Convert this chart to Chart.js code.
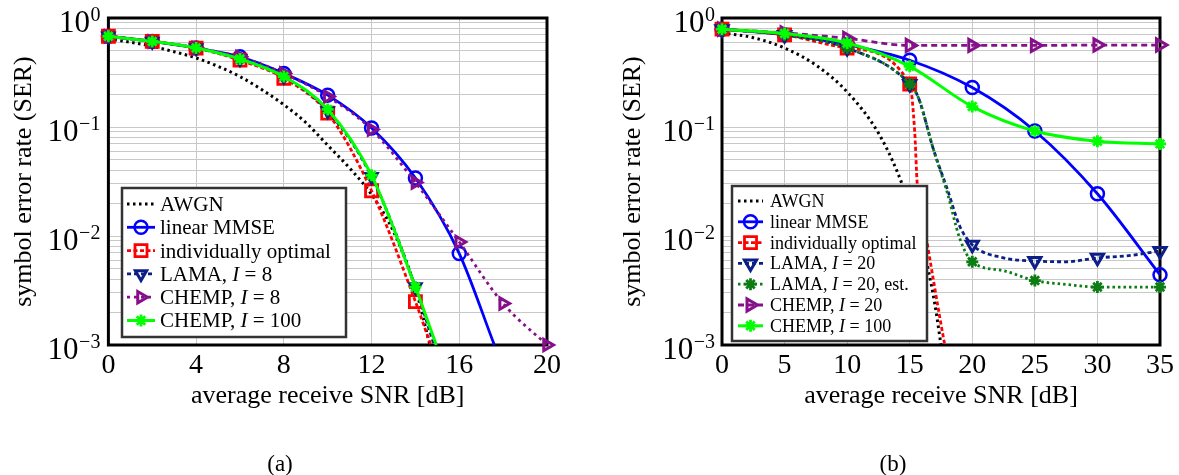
<!DOCTYPE html>
<html>
<head>
<meta charset="utf-8">
<script src="https://cdn.jsdelivr.net/npm/chart.js@4.4.1/dist/chart.umd.min.js"></script>
<style>
  body { margin: 0; background: #fff; }
  #wrap { position: relative; width: 1179px; height: 475px; overflow: hidden; }
  canvas { position: absolute; top: 0; }
  .cap { position: absolute; top: 451px; font-family: 'Liberation Serif', serif; font-size: 23px; transform: translateX(-50%); }
</style>
</head>
<body>
<div id="wrap">
  <canvas id="chartA" width="600" height="475" style="left:0"></canvas>
  <canvas id="chartB" width="579" height="475" style="left:600px"></canvas>
  <div class="cap" style="left:280px">(a)</div>
  <div class="cap" style="left:893px">(b)</div>
</div>
<script>
// ---- (a) SER vs SNR, 0..20 dB ----
const awgnSnrA = [0, 1, 2, 3, 4, 5, 6, 7, 8, 9, 10, 11, 12, 13, 14, 14.66];
const awgnA = [0.64, 0.60, 0.55, 0.49, 0.43, 0.36, 0.29, 0.22, 0.16, 0.11, 0.068, 0.042, 0.024, 0.011, 0.0033, 0.001];
const mmseSnrA = [0, 2, 4, 6, 8, 10, 12, 14, 16, 17.6];
const mmseA = [0.68, 0.61, 0.53, 0.44, 0.31, 0.196, 0.098, 0.034, 0.0069, 0.001];
const optSnrA = [0, 2, 4, 6, 8, 10, 12, 14, 14.7];
const optA = [0.68, 0.61, 0.53, 0.41, 0.28, 0.134, 0.026, 0.0025, 0.001];
const lamaSnrA = [0, 2, 4, 6, 8, 10, 12, 14, 14.85];
const lamaA = [0.68, 0.61, 0.53, 0.42, 0.29, 0.14, 0.035, 0.0034, 0.001];
const chempSnrA = [0, 2, 4, 6, 8, 10, 12, 14, 16, 18, 20];
const chempA = [0.68, 0.61, 0.53, 0.44, 0.31, 0.19, 0.095, 0.031, 0.0088, 0.0024, 0.001];
const chemp100SnrA = [0, 2, 4, 6, 8, 10, 12, 14, 14.95];
const chemp100A = [0.68, 0.61, 0.53, 0.42, 0.29, 0.145, 0.036, 0.0034, 0.001];

// ---- (b) SER vs SNR, 0..35 dB ----
const awgnSnrB = [0, 2.5, 5, 7.5, 10, 12.5, 14, 15, 16, 17, 17.5];
const awgnB = [0.73, 0.66, 0.53, 0.37, 0.21, 0.088, 0.039, 0.019, 0.0085, 0.0024, 0.001];
const snrB = [0, 5, 10, 15, 20, 25, 30, 35];
const mmseB = [0.79, 0.70, 0.57, 0.41, 0.23, 0.092, 0.0244, 0.0044];
const optSnrB = [0, 5, 10, 15, 15.4, 15.6, 16.3, 17.4, 17.8];
const optB = [0.79, 0.70, 0.53, 0.248, 0.09, 0.03, 0.01, 0.0018, 0.001];
const lamaSnrB = [0, 5, 10, 15, 15.7, 16.9, 18, 19, 20, 22.5, 25, 27.5, 30, 32.5, 35];
const lamaB = [0.79, 0.70, 0.53, 0.248, 0.185, 0.062, 0.027, 0.0123, 0.0083, 0.0063, 0.0059, 0.0058, 0.0063, 0.0066, 0.0073];
const lamaEstB = [0.79, 0.70, 0.53, 0.248, 0.185, 0.062, 0.025, 0.0095, 0.0058, 0.0048, 0.0039, 0.0036, 0.0034, 0.0034, 0.0034];
const chempB = [0.79, 0.73, 0.65, 0.56, 0.56, 0.56, 0.565, 0.565];
const chemp100B = [0.79, 0.72, 0.59, 0.36, 0.154, 0.092, 0.074, 0.070];

// y axis decade labels
const decadeVals = [1, 0.1, 0.01, 0.001];
const decadeExp = ['0', '\u22121', '\u22122', '\u22123'];

const SERIF = "'Liberation Serif', 'DejaVu Serif', serif";

// gridlines at 1..9 x 10^k
const gridVals = [];
for (let e = -3; e < 0; e++) {
    for (let m = 1; m < 10; m++) gridVals.push(m * Math.pow(10, e));
}
gridVals.push(1);

const markAt = step => c => (c.raw && Math.abs(c.raw.x / step - Math.round(c.raw.x / step)) < 1e-9);

function series(label, xs, ys, st, step) {
    const isMark = markAt(step);
    const r = st.radius || 0;
    return {
        label: label,
        data: xs.map((x, i) => ({ x: x, y: ys[i] })),
        borderColor: st.color,
        borderWidth: st.width || 2.5,
        borderDash: st.dash || [],
        pointStyle: st.point || 'circle',
        pointRotation: st.rot || 0,
        pointRadius: c => (r && isMark(c) ? r : 0),
        pointBorderColor: st.color,
        pointBorderWidth: st.pw || 2,
        pointBackgroundColor: 'rgba(0,0,0,0)',
        fill: false,
        cubicInterpolationMode: 'monotone',
        clip: { left: 12, top: 12, right: 12, bottom: 10 },
        legendRadius: st.lr || r
    };
}

const NAVY = '#0c1f86';
const DKGREEN = '#0b7d12';
const PURPLE = '#85108a';

const datasetsA = [
    series('AWGN', awgnSnrA, awgnA, { color: '#000', width: 3, dash: [2.5, 3.5] }, 2),
    series('linear MMSE', mmseSnrA, mmseA, { color: '#0000ff', width: 2.8, point: 'circle', radius: 6.5, pw: 2.5 }, 2),
    series('individually optimal', optSnrA, optA, { color: '#ff0000', width: 2.8, dash: [4, 2.5], point: 'rect', radius: 8.5, pw: 2.8 }, 2),
    series('LAMA, *I* = 8', lamaSnrA, lamaA, { color: NAVY, width: 2.8, dash: [4, 3], point: 'triangle', rot: 180, radius: 6.5, pw: 3 }, 2),
    series('CHEMP, *I* = 8', chempSnrA, chempA, { color: PURPLE, width: 2.8, dash: [3, 4], point: 'triangle', rot: 90, radius: 6.5, pw: 3 }, 2),
    series('CHEMP, *I* = 100', chemp100SnrA, chemp100A, { color: '#00ff00', width: 3, point: 'star', radius: 6, pw: 2.8 }, 2)
];

const datasetsB = [
    series('AWGN', awgnSnrB, awgnB, { color: '#000', width: 3, dash: [2.5, 3.5] }, 5),
    series('linear MMSE', snrB, mmseB, { color: '#0000ff', width: 2.8, point: 'circle', radius: 6.5, pw: 2.5 }, 5),
    series('individually optimal', optSnrB, optB, { color: '#ff0000', width: 2.8, dash: [4, 2.5], point: 'rect', radius: 8.5, pw: 2.8 }, 5),
    series('LAMA, *I* = 20', lamaSnrB, lamaB, { color: NAVY, width: 2.8, dash: [4, 3], point: 'triangle', rot: 180, radius: 7, pw: 3 }, 5),
    series('LAMA, *I* = 20, est.', lamaSnrB, lamaEstB, { color: DKGREEN, width: 2.8, dash: [2.5, 3], point: 'star', radius: 6, pw: 2.8 }, 5),
    series('CHEMP, *I* = 20', snrB, chempB, { color: PURPLE, width: 2.8, dash: [6, 4], point: 'triangle', rot: 90, radius: 7, pw: 3 }, 5),
    series('CHEMP, *I* = 100', snrB, chemp100B, { color: '#00ff00', width: 3, point: 'star', radius: 6, pw: 2.8 }, 5)
];

// later legend entries are painted on top
[datasetsA, datasetsB].forEach(ds => ds.forEach((d, i) => { d.order = ds.length - i; }));

// black frame round the plot area, drawn under the data
const framePlugin = {
    id: 'frame',
    beforeDatasetsDraw(chart) {
        const a = chart.chartArea;
        const ctx = chart.ctx;
        ctx.save();
        ctx.strokeStyle = '#000';
        ctx.lineWidth = 3;
        ctx.strokeRect(a.left, a.top, a.right - a.left, a.bottom - a.top);
        ctx.restore();
    }
};

// 10^k labels on the log axis
const decadePlugin = {
    id: 'decades',
    afterDraw(chart, args, opts) {
        const ctx = chart.ctx;
        const y = chart.scales.y;
        const xr = chart.chartArea.left - opts.gap;
        ctx.save();
        ctx.fillStyle = '#000';
        ctx.textAlign = 'right';
        ctx.textBaseline = 'alphabetic';
        decadeVals.forEach((v, i) => {
            const py = y.getPixelForValue(v);
            ctx.font = '20px ' + SERIF;
            const ew = ctx.measureText(decadeExp[i]).width;
            ctx.fillText(decadeExp[i], xr, py + 3);
            ctx.font = '31px ' + SERIF;
            ctx.fillText('10', xr - ew - 0.5, py + 13.5);
        });
        ctx.restore();
    }
};

function drawMarker(ctx, d, x, y) {
    if (!d.legendRadius) return;
    const opts = { pointStyle: d.pointStyle, rotation: d.pointRotation, radius: d.legendRadius, borderWidth: d.pointBorderWidth };
    ctx.save();
    ctx.setLineDash([]);
    ctx.strokeStyle = d.borderColor;
    ctx.fillStyle = 'rgba(0,0,0,0)';
    ctx.lineWidth = d.pointBorderWidth;
    Chart.helpers.drawPoint(ctx, opts, x, y);
    ctx.restore();
}

// legend box inside the plot
const boxLegendPlugin = {
    id: 'boxLegend',
    afterDatasetsDraw(chart, args, o) {
        const ctx = chart.ctx;
        ctx.save();
        ctx.fillStyle = '#fff';
        ctx.fillRect(o.x, o.y, o.w, o.h);
        ctx.strokeStyle = '#333';
        ctx.lineWidth = 2.5;
        ctx.strokeRect(o.x, o.y, o.w, o.h);
        chart.data.datasets.forEach((d, i) => {
            const ry = o.row0 + i * o.rowH;
            ctx.strokeStyle = d.borderColor;
            ctx.lineWidth = d.borderWidth;
            ctx.setLineDash(d.borderDash);
            ctx.beginPath();
            ctx.moveTo(o.s0, ry);
            ctx.lineTo(o.s1, ry);
            ctx.stroke();
            drawMarker(ctx, d, (o.s0 + o.s1) / 2, ry);
            // label with *italic* parts
            let tx = o.tx;
            ctx.fillStyle = '#000';
            ctx.textAlign = 'left';
            ctx.textBaseline = 'alphabetic';
            d.label.split('*').forEach((part, k) => {
                ctx.font = (k % 2 ? 'italic ' : '') + o.font + 'px ' + SERIF;
                ctx.fillText(part, tx, ry + o.font * 0.33);
                tx += ctx.measureText(part).width;
            });
        });
        ctx.restore();
    }
};

function makeChart(id, datasets, cfg) {
    return new Chart(document.getElementById(id), {
        type: 'line',
        data: { datasets: datasets },
        options: {
            responsive: false,
            devicePixelRatio: 1,
            animation: false,
            events: [],
            layout: { padding: cfg.pad },
            plugins: {
                legend: { display: false },
                tooltip: { enabled: false },
                decades: { gap: cfg.gap },
                boxLegend: cfg.legend
            },
            scales: {
                x: {
                    type: 'linear',
                    min: 0,
                    max: cfg.xMax,
                    ticks: { stepSize: cfg.xStep, color: '#000', padding: 4, font: { family: SERIF, size: 28 } },
                    grid: { color: '#c8c8c8', lineWidth: 1, drawTicks: false },
                    border: { display: false },
                    title: { display: true, text: 'average receive SNR [dB]', color: '#000', padding: 0, font: { family: SERIF, size: 26 } },
                    afterFit: s => { s.height = cfg.xHeight; }
                },
                y: {
                    type: 'logarithmic',
                    min: 0.001,
                    max: 1,
                    afterBuildTicks: s => { s.ticks = gridVals.map(v => ({ value: v })); },
                    ticks: { display: false },
                    grid: { color: '#c8c8c8', lineWidth: 1, drawTicks: false },
                    border: { display: false },
                    title: { display: true, text: 'symbol error rate (SER)', color: '#000', padding: 0, font: { family: SERIF, size: 26 } },
                    afterFit: s => { s.width = cfg.yWidth; }
                }
            }
        },
        plugins: [framePlugin, decadePlugin, boxLegendPlugin]
    });
}

makeChart('chartA', datasetsA, {
    xMax: 20, xStep: 4,
    pad: { left: 8.4, right: 53, top: 18, bottom: 63.4 },
    yWidth: 100, xHeight: 66.6, gap: 8,
    legend: { x: 122, y: 188, w: 224, h: 149, row0: 204, rowH: 23.3, s0: 127, s1: 155, tx: 160, font: 21 }
});

makeChart('chartB', datasetsB, {
    xMax: 35, xStep: 5,
    pad: { left: 17.4, right: 19, top: 18, bottom: 63.4 },
    yWidth: 104.6, xHeight: 66.6, gap: 7,
    legend: { x: 132, y: 186, w: 195, h: 155, row0: 201, rowH: 20.8, s0: 138, s1: 163, tx: 170, font: 18 }
});
</script>
</body>
</html>
